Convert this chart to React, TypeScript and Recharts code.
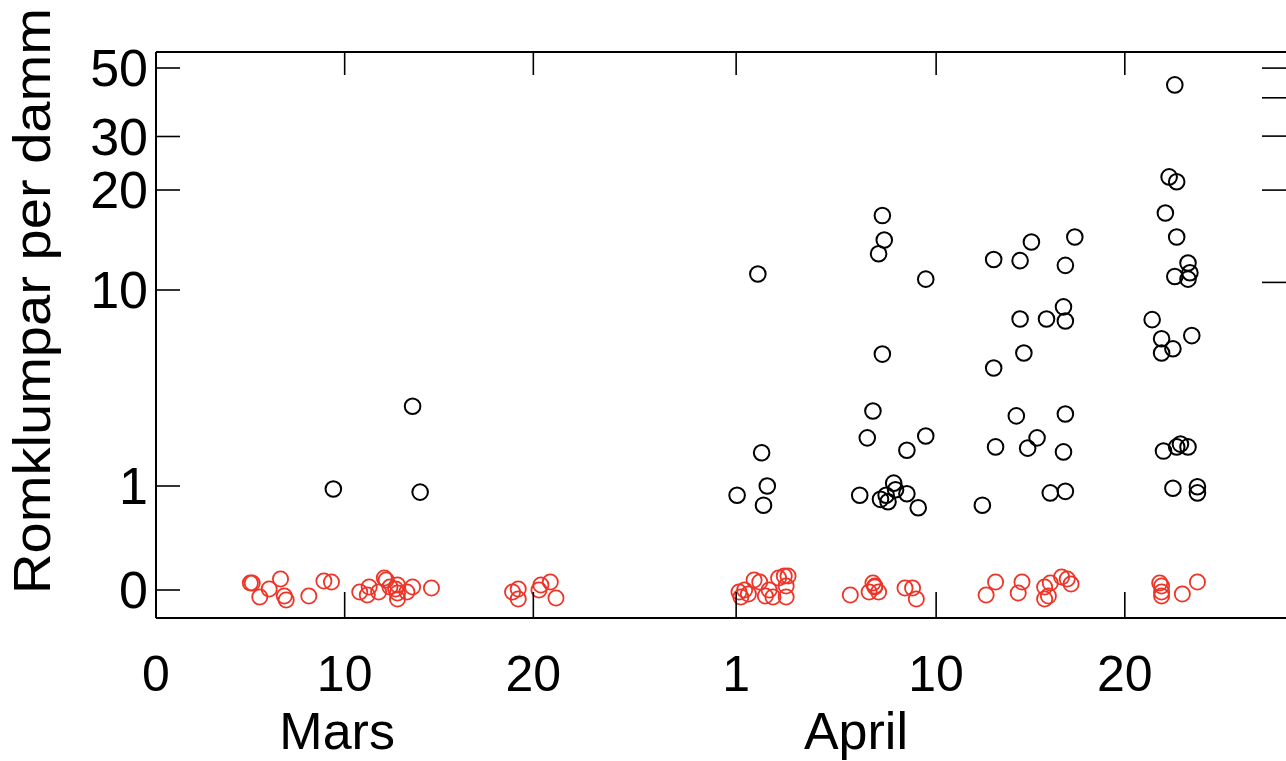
import { ScatterChart, Scatter, XAxis, YAxis } from "recharts";

// Dag räknat från 0 mars. Svarta = dammar med rom, röda = dammar utan (0, spridda vertikalt)
const blackDays = [
  9.4, 13.6, 14.0,
  30.8, 31.9, 32.1, 32.4, 32.2,
  38.5, 38.6, 38.3, 40.8, 38.5, 38.0, 37.7, 40.8, 39.8, 37.3, 39.1, 38.4, 38.8, 39.2, 38.7, 39.8, 40.4,
  44.4, 45.8, 46.4, 48.7, 48.2, 48.1, 45.8, 47.2, 48.2, 46.0, 44.4, 45.6, 48.2, 44.5, 46.7, 46.2, 48.1, 43.8, 47.4, 48.2,
  54.0, 53.7, 54.1, 53.5, 54.1, 54.7, 54.8, 54.0, 54.7, 52.8, 53.3, 54.9, 53.9, 53.3, 53.4, 54.1, 54.3, 54.7, 53.9, 55.2, 55.2,
];
const blackCounts = [
  0.96, 3.0, 0.92,
  0.88, 11.2, 1.67, 1.0, 0.76,
  16.8, 14.2, 12.9, 10.8, 5.3, 2.84, 2.04, 2.09, 1.73, 0.88, 1.05, 0.83, 0.8, 0.95, 0.88, 0.9, 0.73,
  12.4, 12.3, 14.0, 14.5, 11.9, 8.5, 7.55, 7.55, 7.4, 5.36, 4.58, 2.68, 2.74, 1.81, 2.04, 1.78, 1.69, 0.76, 0.91, 0.93,
  44, 22.1, 21.3, 17.1, 14.5, 12.1, 11.3, 11.0, 10.8, 7.5, 6.2, 6.4, 5.6, 5.36, 1.71, 1.81, 1.88, 1.81, 0.97, 0.99, 0.91,
];

const redDays = [
  5.0, 5.1, 6.6, 6.0, 5.5, 6.8, 6.9, 8.1, 8.9, 9.3, 10.8, 11.3, 11.2, 11.8, 12.1, 12.2, 12.4, 12.7, 12.8, 12.8, 13.3, 12.8, 13.6, 14.6,
  18.9, 19.2, 19.2, 20.4, 20.3, 20.9, 21.2,
  30.9, 31.0, 31.2, 31.4, 31.7, 32.0, 32.5, 32.7, 33.0, 33.3, 33.5, 33.4, 33.4, 32.3,
  36.8, 38.0, 38.1, 37.8, 38.3, 38.1, 39.7, 40.1, 40.3,
  44.0, 44.5, 45.9, 45.7, 47.1, 47.4, 47.3, 47.1, 48.0, 48.3, 48.5,
  53.2, 53.3, 53.3, 53.3, 54.4, 55.2,
];
const redJitter = [
  7, 7, 11, 1, -7, -6, -10, -6, 9, 8, -2, 3, -5, -2, 12, 10, 3, 1, -3, 5, -2, -9, 3, 2,
  -2, 1, -9, 5, 0, 8, -8,
  -2, -7, 0, -4, 10, 8, 0, -7, 12, 14, 14, 4, -7, -6,
  -5, 7, 3, -2, -2, 4, 2, 2, -9,
  -5, 8, 8, -3, 3, 7, -6, -9, 13, 11, 6,
  7, 4, -2, -6, -4, 8,
];

const xTicks = [0, 10, 20, 30.75, 41.35, 51.35];
const xTickLabels = ["0", "10", "20", "1", "10", "20"];
const monthPos = [9.6, 37.1];
const monthLabels = ["Mars", "April"];
const yTicks = [0, 1, 10, 20, 30, 50];
const rightTicks = [10, 20, 30, 40, 50];

// brutna y-skalan: värde -> höjd över nollan
const anchorValues = [0, 1, 10, 20, 30, 40, 50];
const anchorPos = [0, 104, 300, 400, 453.5, 492.5, 522];

function toAxis(v: number) {
  const L = Math.log10(v + 1);
  let i = 0;
  while (i < anchorValues.length - 2 && v > anchorValues[i + 1]) i++;
  const l0 = Math.log10(anchorValues[i] + 1);
  const l1 = Math.log10(anchorValues[i + 1] + 1);
  return anchorPos[i] + ((L - l0) / (l1 - l0)) * (anchorPos[i + 1] - anchorPos[i]);
}
// högeraxeln är ren log-skala
const rightAxis = (v: number) => 1 + 306.6 * Math.log10(v);

const blackData = blackDays.map((d, i) => ({ x: d, y: toAxis(blackCounts[i]) }));
const redData = redDays.map((d, i) => ({ x: d, y: redJitter[i] }));
const monthData = monthPos.map((d) => ({ x: d, y: 0 }));

const font = '"Liberation Sans", Arial, Helvetica, sans-serif';
const Y_DOMAIN = [-28, 538];
const PLOT_TOP = 52;

const LeftTick = (p: any) => (
  <g>
    <line x1={p.x} x2={p.x + 24} y1={p.y} y2={p.y} stroke="#000" strokeWidth={1.6} />
    <text x={p.x - 8} y={p.y + 18} textAnchor="end" fontSize={52} fontFamily={font} fill="#000">
      {yTicks[p.index]}
    </text>
  </g>
);

const RightTick = (p: any) => (
  <line x1={p.x - 26} x2={p.x} y1={p.y} y2={p.y} stroke="#000" strokeWidth={1.6} />
);

// nedre axeln ritar även topp-ramens streck
const BottomTick = (p: any) => (
  <g>
    <line x1={p.x} x2={p.x} y1={p.y} y2={p.y - 26} stroke="#000" strokeWidth={1.6} />
    {p.index > 0 && (
      <line x1={p.x} x2={p.x} y1={PLOT_TOP} y2={PLOT_TOP + 23} stroke="#000" strokeWidth={1.6} />
    )}
    <text x={p.x} y={p.y + 73} textAnchor="middle" fontSize={50} fontFamily={font} fill="#000">
      {xTickLabels[p.index]}
    </text>
  </g>
);

const MonthTick = (p: any) => (
  <text x={p.x} y={749} textAnchor="middle" fontSize={52} fontFamily={font} fill="#000">
    {monthLabels[p.index]}
  </text>
);

const blackRing = (p: any) => (
  <circle cx={p.cx} cy={p.cy} r={7.8} fill="none" stroke="#000" strokeWidth={2} />
);
const redRing = (p: any) => (
  <circle cx={p.cx} cy={p.cy} r={7.6} fill="none" stroke="#ee3427" strokeWidth={1.8} />
);
const noMark = () => <g />;

export default function App() {
  return (
    <div style={{ position: "absolute", left: 0, top: 0, width: 1286, height: 761, overflow: "hidden", background: "#fff" }}>
      <ScatterChart width={1300} height={761} margin={{ top: 51, right: 0, bottom: 0, left: 0 }}>
        <XAxis
          type="number"
          dataKey="x"
          domain={[0, 60]}
          ticks={xTicks}
          interval={0}
          height={142}
          tickSize={0}
          tickMargin={0}
          tick={BottomTick}
          axisLine={{ stroke: "#000", strokeWidth: 2 }}
          allowDataOverflow
        />
        <XAxis
          xAxisId="month"
          type="number"
          dataKey="x"
          domain={[0, 60]}
          ticks={monthPos}
          interval={0}
          height={1}
          tickSize={0}
          tickMargin={0}
          tick={MonthTick}
          axisLine={false}
          allowDataOverflow
        />
        <XAxis
          xAxisId="top"
          orientation="top"
          type="number"
          domain={[0, 60]}
          height={1}
          tick={false}
          tickLine={false}
          axisLine={{ stroke: "#000", strokeWidth: 2 }}
          allowDataOverflow
        />
        <YAxis
          type="number"
          dataKey="y"
          domain={Y_DOMAIN}
          ticks={yTicks.map(toAxis)}
          interval={0}
          width={156}
          tickSize={0}
          tickMargin={0}
          tick={LeftTick}
          axisLine={{ stroke: "#000", strokeWidth: 2 }}
          allowDataOverflow
          label={() => (
            <text
              transform="translate(50,301) rotate(-90)"
              textAnchor="middle"
              fontSize={52}
              textLength={586}
              lengthAdjust="spacingAndGlyphs"
              fontFamily={font}
              fill="#000"
            >
              Romklumpar per damm
            </text>
          )}
        />
        <YAxis
          yAxisId="right"
          orientation="right"
          type="number"
          domain={Y_DOMAIN}
          ticks={rightTicks.map(rightAxis)}
          interval={0}
          width={12}
          tickSize={0}
          tickMargin={0}
          tick={RightTick}
          axisLine={{ stroke: "#000", strokeWidth: 2 }}
          allowDataOverflow
        />
        <Scatter data={monthData} xAxisId="month" shape={noMark} isAnimationActive={false} />
        <Scatter data={redData} shape={redRing} isAnimationActive={false} />
        <Scatter data={blackData} shape={blackRing} isAnimationActive={false} />
      </ScatterChart>
    </div>
  );
}
